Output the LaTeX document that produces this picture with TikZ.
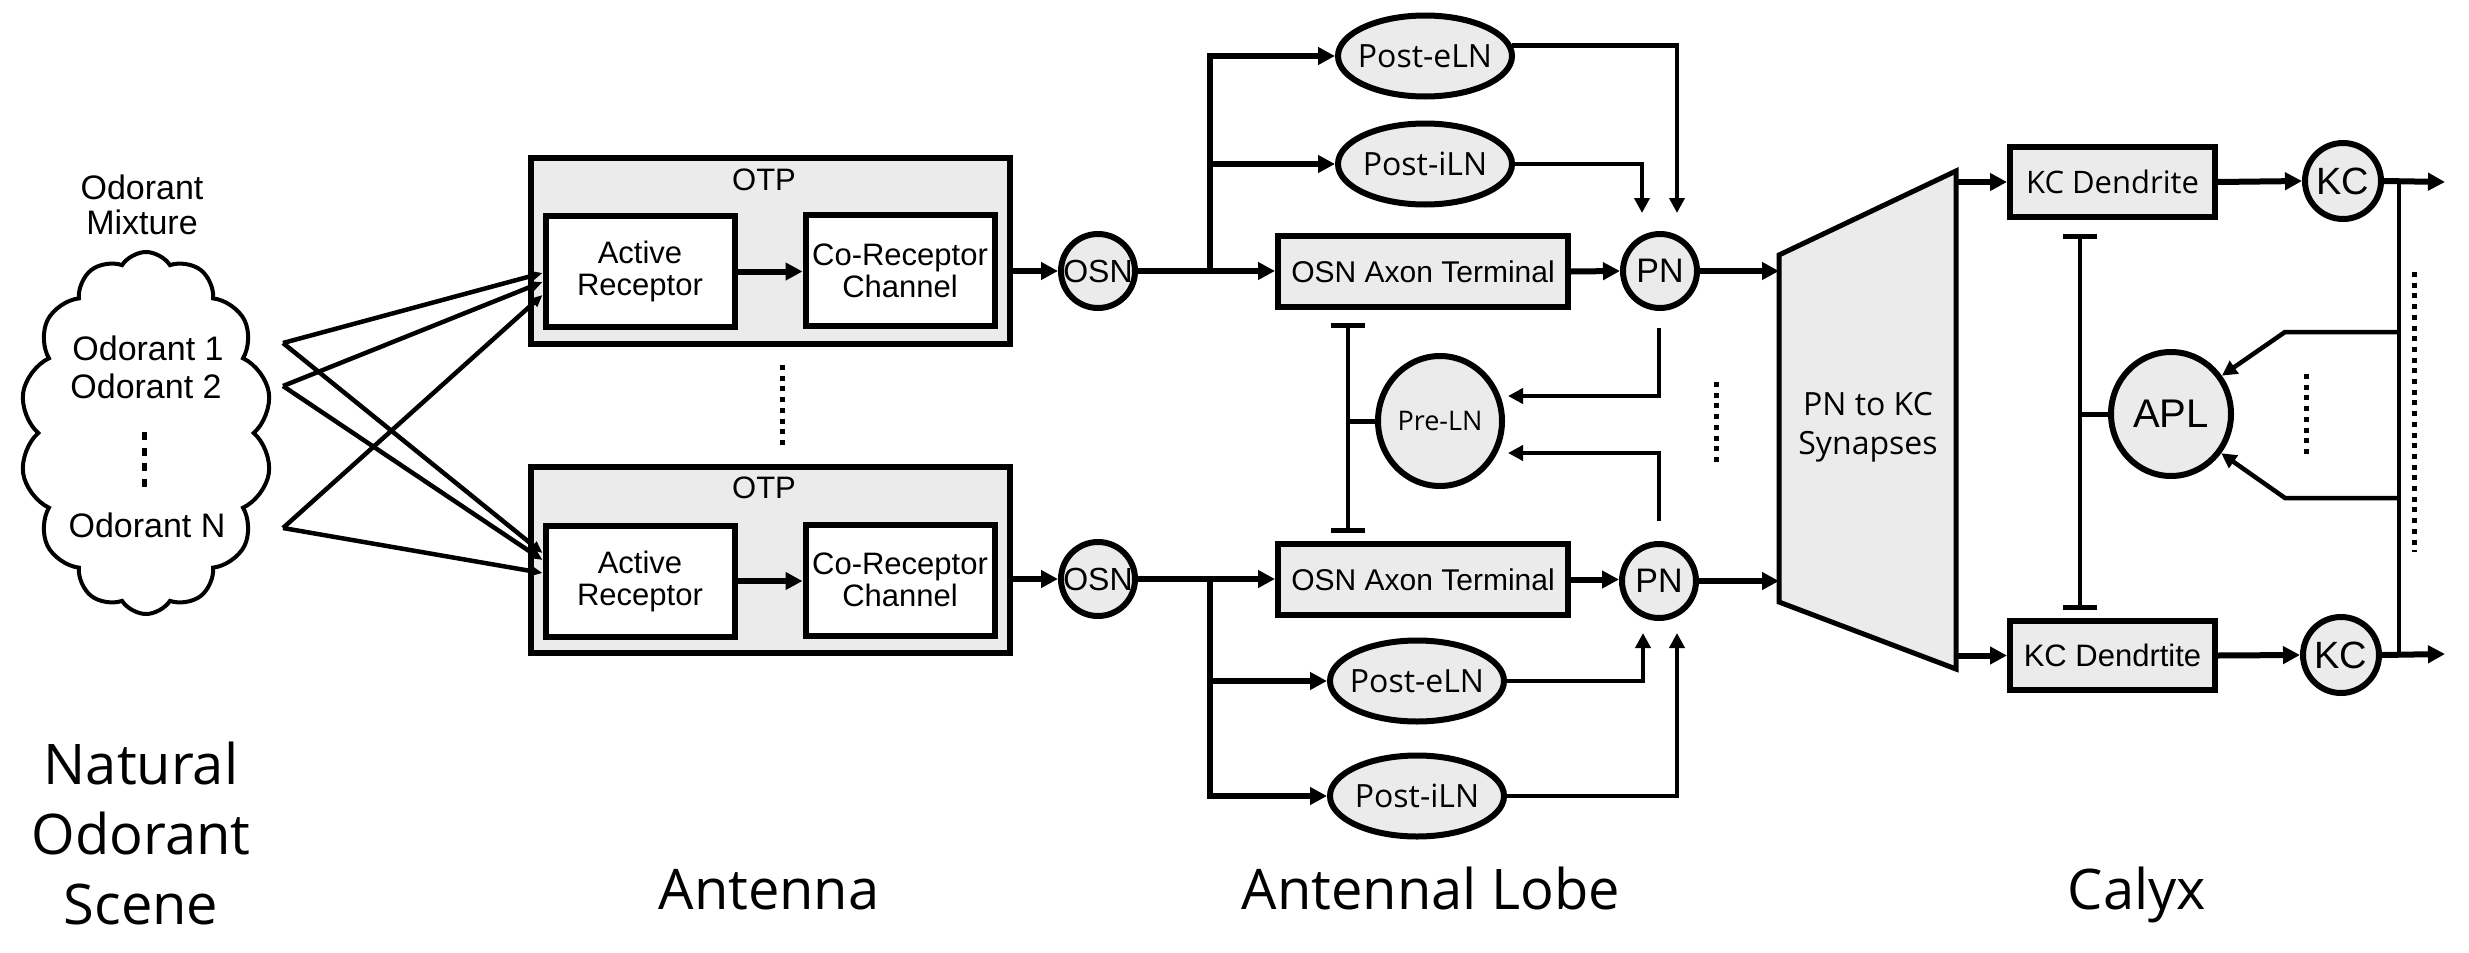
\documentclass[tikz,border=0pt]{standalone}
\usepackage{fontspec}
\setmainfont{Liberation Sans}
\newfontfamily\osans{Open Sans}
\usetikzlibrary{arrows.meta,shapes.geometric,shapes.symbols}
\newcommand{\tight}[1]{\makebox[0pt]{#1}}
\newcommand{\fs}[2]{\fontsize{#1}{#2}\selectfont}

\begin{document}
\begin{tikzpicture}[x=1pt,y=-1pt]
  \tikzset{
    BoxStyle/.style = {draw, line width=6pt, inner sep=0pt, align=center},
    OTPStyle/.style = {BoxStyle, fill=black!8, minimum width=479pt, minimum height=186pt},
    PartStyle/.style = {BoxStyle, fill=white, minimum width=189pt,
      minimum height=111pt, font=\fs{31}{32}},
    TermStyle/.style = {BoxStyle, fill=black!8, minimum height=71pt},
    CellStyle/.style = {draw, line width=6pt, fill=black!8, circle,
      inner sep=0pt, minimum size=74pt},
    LNStyle/.style = {draw, line width=6pt, fill=black!8, ellipse, inner sep=0pt,
      minimum width=174pt, minimum height=81pt, font=\osans\fs{32}{34}},
    EdgeStyle/.style = {line width=6pt, -{Triangle[length=17pt,width=17pt]}},
    OdorStyle/.style = {line width=4.5pt, -{Triangle[length=12pt,width=10pt]}},
    FeedStyle/.style = {line width=4.5pt, -{Triangle[length=15pt,width=15pt]}},
    InhStyle/.style = {line width=4.5pt,
      {Bar[width=34pt,line width=5pt]}-{Bar[width=34pt,line width=5pt]}},
    DotStyle/.style = {line width=5pt, dash pattern=on 5pt off 5.7pt},
    RegionStyle/.style = {font=\osans\fs{56}{70}, align=center}
  }
  \useasboundingbox (0,0) rectangle (2469,953);

  % odorant scene
  \node[draw, cloud, fill=white, line width=4pt, cloud puffs=14, cloud puff arc=115,
    cloud ignores aspect, minimum width=252pt, minimum height=362pt,
    inner sep=0pt] (SCENE) at (146,433) {};
  \node[font=\fs{34}{35}, align=center] (MIX) at (142,205) {Odorant\\Mixture};
  \node[font=\fs{34}{35}] (OD1) at (148,348) {Odorant 1};
  \node[font=\fs{34}{35}] (OD2) at (146,386) {Odorant 2};
  \node[font=\fs{34}{35}] (ODN) at (147,525) {Odorant N};
  \draw[DotStyle, dash pattern=on 8pt off 7.7pt] (144,432) -- (144,489);

  % antenna
  \node[OTPStyle] (OTP1) at (770,251) {};
  \node[font=\fs{31}{32}] (OTPT1) at (764,180) {OTP};
  \node[PartStyle] (AR1) at (640,271.5) {Active\\Receptor};
  \node[PartStyle] (CR1) at (900,270.5) {Co-Receptor\\Channel};
  \node[CellStyle, font=\fs{32}{34}] (OSN1) at (1098,271) {OSN};

  \node[OTPStyle] (OTP2) at (770,559.5) {};
  \node[font=\fs{31}{32}] (OTPT2) at (764,488) {OTP};
  \node[PartStyle] (AR2) at (640,581) {Active\\Receptor};
  \node[PartStyle] (CR2) at (900,580) {Co-Receptor\\Channel};
  \node[CellStyle, font=\fs{32}{34}] (OSN2) at (1098,579) {OSN};
  \draw[DotStyle] (782,365) -- (782,445);

  \coordinate (S1) at (283,343);
  \coordinate (S2) at (283,386);
  \coordinate (SN) at (283,528);
  \draw[OdorStyle] (S1) -- ([yshift=-1.5pt]AR1.west);
  \draw[OdorStyle] (S2) -- ([yshift=-10.5pt]AR1.west);
  \draw[OdorStyle] (SN) -- ([yshift=-23.5pt]AR1.west);
  \draw[OdorStyle] (S1) -- ([yshift=28pt]AR2.west);
  \draw[OdorStyle] (S2) -- ([yshift=21pt]AR2.west);
  \draw[OdorStyle] (SN) -- ([yshift=8pt]AR2.west);

  \draw[EdgeStyle] (AR1.east) -- (AR1.east -| CR1.west);
  \draw[EdgeStyle] (AR2.east) -- (AR2.east -| CR2.west);
  \draw[EdgeStyle] (OTP1.east |- OSN1) -- (OSN1.west);
  \draw[EdgeStyle] (OTP2.east |- OSN2) -- (OSN2.west);

  % antennal lobe
  \node[TermStyle, minimum width=290pt, font=\fs{30}{32}] (AXON1) at (1423,271.5) {OSN Axon Terminal};
  \node[TermStyle, minimum width=290pt, font=\fs{30}{32}] (AXON2) at (1423,579.5) {OSN Axon Terminal};
  \node[CellStyle, font=\fs{34}{36}] (PN1) at (1660,271) {PN};
  \node[CellStyle, font=\fs{34}{36}] (PN2) at (1659,581) {PN};
  \node[LNStyle] (POSTE1) at (1425,56) {\tight{Post-eLN}};
  \node[LNStyle] (POSTI1) at (1425,164) {\tight{Post-iLN}};
  \node[LNStyle] (POSTE2) at (1417,681) {\tight{Post-eLN}};
  \node[LNStyle] (POSTI2) at (1417,796) {\tight{Post-iLN}};
  \node[LNStyle, minimum width=124pt, minimum height=130pt,
    font=\osans\fs{27}{29}] (PRELN) at (1440,421) {\tight{Pre-LN}};

  \coordinate (BR1) at (1210,271);
  \coordinate (BR2) at (1210,579);
  \draw[EdgeStyle] (OSN1.east) -- (OSN1.east -| AXON1.west);
  \draw[EdgeStyle] (OSN2.east) -- (OSN2.east -| AXON2.west);
  \draw[EdgeStyle] (BR1) |- (POSTE1.west);
  \draw[EdgeStyle] (BR1) |- (POSTI1.west);
  \draw[EdgeStyle] (BR2) |- (POSTE2.west);
  \draw[EdgeStyle] (BR2) |- (POSTI2.west);
  \draw[EdgeStyle] (AXON1.east) -- (PN1.west);
  \draw[EdgeStyle] (AXON2.east) -- (AXON2.east -| PN2.west);

  \coordinate (PE1) at (1677,213);
  \coordinate (PI1) at (1642,213);
  \coordinate (PE2) at (1643,633);
  \coordinate (PI2) at (1677,633);
  \draw[FeedStyle] (POSTE1.7) -| (PE1);
  \draw[FeedStyle] (POSTI1.east) -| (PI1);
  \draw[FeedStyle] (POSTE2.east) -| (PE2);
  \draw[FeedStyle] (POSTI2.east) -| (PI2);

  \coordinate (PD1) at (1659,328);
  \coordinate (PD2) at (1659,521);
  \coordinate (PL1) at (1508,396);
  \coordinate (PL2) at (1508,453);
  \draw[FeedStyle] (PD1) |- (PL1);
  \draw[FeedStyle] (PD2) |- (PL2);

  \coordinate (AI1) at (1348,323);
  \coordinate (AI2) at (1348,533);
  \draw[InhStyle] (AI1) -- (AI2);
  \draw[line width=5pt] (PRELN.west) -- (PRELN.west -| AI1);
  \draw[DotStyle] (1716,382) -- (1716,462);

  % pn to kc synapses
  \coordinate (TL) at (1779,255);
  \coordinate (TR) at (1956,171);
  \coordinate (BRR) at (1956,669);
  \coordinate (BL) at (1779,602);
  \draw[line width=5pt, fill=black!8] (TL) -- (TR) -- (BRR) -- (BL) -- cycle;
  \node[font=\osans\fs{32}{39}, align=center] (SYN) at (1868,427) {PN to KC\\Synapses};
  \draw[EdgeStyle] (PN1.east) -- (PN1.east -| TL);
  \draw[EdgeStyle] (PN2.east) -- (PN2.east -| BL);

  % calyx
  \node[TermStyle, minimum width=205pt, minimum height=70pt,
    font=\osans\fs{31}{33}] (KCD1) at (2112.5,182) {KC Dendrite};
  \node[TermStyle, minimum width=205pt, minimum height=69pt,
    font=\fs{31}{33}] (KCD2) at (2112.5,655.5) {KC Dendrtite};
  \node[CellStyle, minimum size=76pt, font=\fs{38}{40}] (KC1) at (2343,181) {KC};
  \node[CellStyle, minimum size=76pt, font=\fs{38}{40}] (KC2) at (2341,655) {KC};
  \node[CellStyle, ellipse, minimum width=120pt, minimum height=124pt,
    font=\fs{40}{42}] (APL) at (2171,414) {APL};

  \draw[EdgeStyle] (KCD1.west -| TR) -- (KCD1.west);
  \draw[EdgeStyle] (KCD2.west -| TR) -- (KCD2.west);
  \draw[EdgeStyle] (KCD1.east) -- (KC1.west);
  \draw[EdgeStyle] (KCD2.east) -- (KC2.west);
  \coordinate (OUT1) at (2445,182);
  \coordinate (OUT2) at (2445,654);
  \draw[EdgeStyle] (KC1.east) -- (OUT1);
  \draw[EdgeStyle] (KC2.east) -- (OUT2);

  \coordinate (TAP1) at (2399,182);
  \coordinate (TAP2) at (2399,654);
  \coordinate (F1) at (2399,332);
  \coordinate (F2) at (2399,498);
  \draw[line width=4.5pt] (TAP1) -- (TAP2);
  \draw[FeedStyle] (F1) -- ++(-114,0) -- (APL.37);
  \draw[FeedStyle] (F2) -- ++(-114,0) -- (APL.-38);

  \coordinate (KI1) at (2080,234);
  \coordinate (KI2) at (2080,610);
  \draw[InhStyle] (KI1) -- (KI2);
  \draw[line width=5pt] (APL.west) -- (APL.west -| KI1);
  \draw[DotStyle] (2306,374) -- (2306,454);
  \draw[DotStyle] (2414,272) -- (2414,552);

  % regions
  \node[RegionStyle] (NOS) at (141,833) {Natural\\Odorant\\Scene};
  \node[RegionStyle, anchor=base] (ANT) at (769,909) {Antenna};
  \node[RegionStyle, anchor=base] (ALB) at (1431,909) {Antennal Lobe};
  \node[RegionStyle, anchor=base] (CAL) at (2137,909) {Calyx};
\end{tikzpicture}
\end{document}
